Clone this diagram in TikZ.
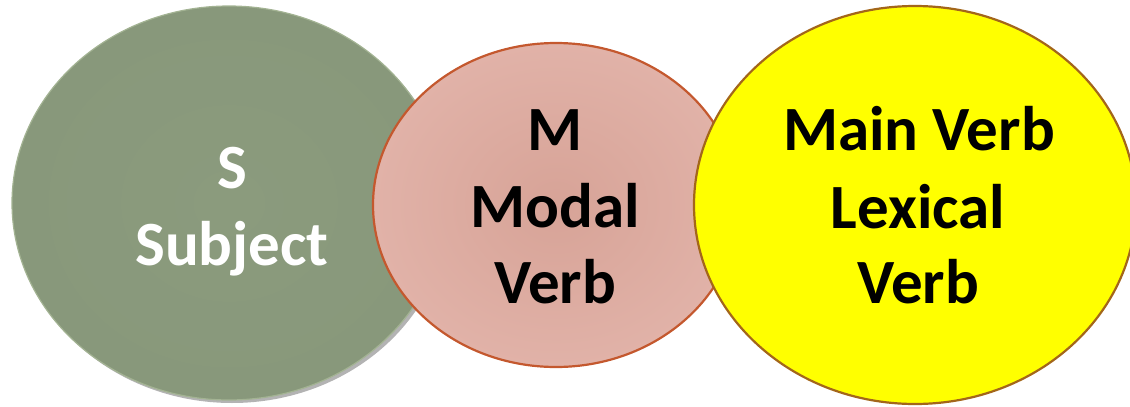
\documentclass[tikz,border=0pt]{standalone}
\usepackage{fontspec}
\setmainfont{Carlito}
\usetikzlibrary{shapes.geometric,shadows}
\definecolor{sage}{HTML}{8B9B7D}
\definecolor{sagerim}{HTML}{A3B393}
\definecolor{sagedark}{HTML}{88987B}
\definecolor{rose}{HTML}{E1B2A8}
\definecolor{rosemid}{HTML}{D7A397}
\definecolor{roseline}{HTML}{C4582E}
\definecolor{sun}{HTML}{FFFF00}
\definecolor{sunline}{HTML}{A3661A}
\tikzset{
  bubble/.style={ellipse, inner sep=0pt, outer sep=0pt},
  word/.style={font=\fontsize{63}{75}\selectfont\bfseries, anchor=base, inner sep=0pt},
}
\begin{document}
\begin{tikzpicture}[x=1pt, y=-1pt]
  \useasboundingbox (0,0) rectangle (1130,407);
  % subject disc with its soft shadow
  \node[bubble, minimum width=434pt, minimum height=394pt,
        inner color=sage, outer color=sagedark, draw=sagerim, line width=1.2pt,
        drop shadow={shadow xshift=3pt, shadow yshift=-3pt, opacity=0.4, fill=black!75}]
        (subj) at (229,203) {};
  % modal disc
  \node[bubble, minimum width=366pt, minimum height=324pt,
        inner color=rosemid, outer color=rose, draw=roseline, line width=2.2pt]
        (modal) at (556,205) {};
  % main verb disc
  \node[bubble, minimum width=442pt, minimum height=398pt,
        fill=sun, draw=sunline, line width=2.2pt]
        (main) at (915,205) {};
  % labels
  \node[word, text=white] (s1) at (232,188) {S};
  \node[word, text=white] (s2) at (232,265) {Subject};
  \node[word] (m1) at (555,150) {M};
  \node[word] (m2) at (555,227) {Modal};
  \node[word] (m3) at (555,303) {Verb};
  \node[word] (v1) at (919,150) {Main Verb};
  \node[word] (v2) at (918,228) {Lexical};
  \node[word] (v3) at (918,303) {Verb};
\end{tikzpicture}
\end{document}
